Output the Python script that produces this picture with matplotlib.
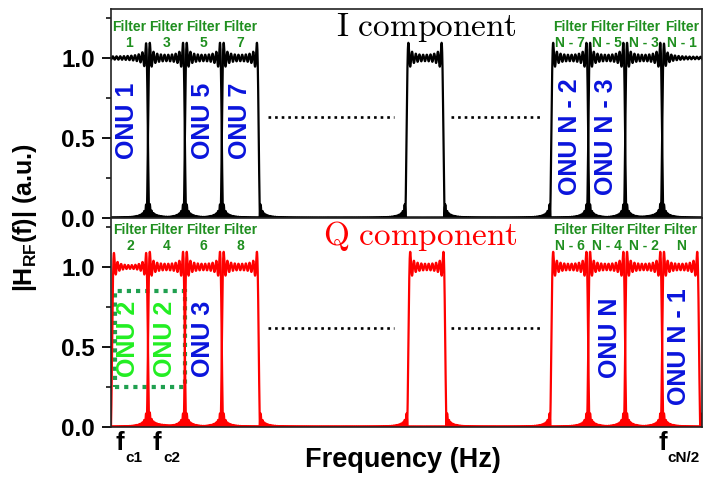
import numpy as np
import matplotlib
matplotlib.use('Agg')
import matplotlib.pyplot as plt
from matplotlib.patches import Rectangle
from matplotlib.ticker import MultipleLocator

plt.rcParams['font.family'] = 'Liberation Sans'
plt.rcParams['font.weight'] = 'bold'
plt.rcParams['mathtext.fontset'] = 'custom'
plt.rcParams['mathtext.bf'] = 'Liberation Sans:bold'
plt.rcParams['mathtext.rm'] = 'Liberation Sans:bold'
plt.rcParams['mathtext.it'] = 'Liberation Sans:bold'
plt.rcParams['mathtext.default'] = 'bf'

# filter pass-bands (lower, upper edge) in channel-spacing units
i_lo = [-1.0, 1.0, 2.0, 3.0, 8.0, 11.92, 12.92, 13.92, 14.92]
i_hi = [1.0, 2.0, 3.0, 4.0, 9.0, 12.92, 13.92, 14.92, 17.0]
q_lo = [0.03, 1.0, 2.0, 3.0, 8.05, 11.92, 12.92, 13.92, 14.92]
q_hi = [1.0, 2.0, 3.0, 4.0, 9.05, 12.92, 13.92, 14.92, 15.92]
i_names = ['1', '3', '5', '7', None, 'N - 7', 'N - 5', 'N - 3', 'N - 1']
q_names = ['2', '4', '6', '8', None, 'N - 6', 'N - 4', 'N - 2', 'N']
tap_span = 10.0     # length of truncated impulse response
f_max = 16.0

f = np.linspace(0, f_max, 20000)

# sine integral table, Si(x) = int_0^x sin(t)/t dt
t = np.linspace(0, 2 * np.pi * tap_span * 20, 400001)
g = np.sinc(t / np.pi)
si_tab = np.concatenate([[0.0], np.cumsum((g[1:] + g[:-1]) / 2 * np.diff(t))])


def si(x):
    return np.sign(x) * np.interp(np.abs(x), t, si_tab)


def response(lo, hi):
    # |H| of an ideal band-pass with truncated impulse response (Gibbs ripple)
    w = 2 * np.pi * tap_span
    return np.abs(si(w * (f - lo)) - si(w * (f - hi))) / np.pi


fig = plt.figure(figsize=(7.03, 4.78), dpi=100)
ax_i = fig.add_axes([0.1579, 0.5439, 0.8407, 0.4373])
ax_q = fig.add_axes([0.1579, 0.1067, 0.8407, 0.4372])

green = '#1f8f1f'
blue = '#0a14dc'

for ax, lo_list, hi_list, names, col, ylab in [
        (ax_i, i_lo, i_hi, i_names, 'black', 1.145),
        (ax_q, q_lo, q_hi, q_names, 'red', 1.18)]:
    for lo, hi, name in zip(lo_list, hi_list, names):
        ax.plot(f, response(lo, hi), color=col, lw=1.6)
        if name is not None:
            xc = (max(lo, 0) + min(hi, f_max)) / 2
            ax.text(xc, ylab, 'Filter\n' + name, ha='center', va='center',
                    fontsize=10, color=green, linespacing=1.2)
    ax.set_xlim(0, f_max)
    ax.set_ylim(0, 1.306)
    ax.set_xticks([])
    ax.set_yticks([0, 0.5, 1.0])
    ax.set_yticklabels(['0.0', '0.5', '1.0'])
    ax.yaxis.set_minor_locator(MultipleLocator(0.25))
    ax.tick_params(axis='y', which='major', direction='out', length=6.5,
                   width=1.3, labelsize=17.5, pad=5)
    ax.tick_params(axis='y', which='minor', direction='out', length=3.5,
                   width=1.1)
    for s in ax.spines.values():
        s.set_linewidth(1.2)
        s.set_color('#222222')

# dotted "..." for the omitted channels
for ax, yd in [(ax_i, 0.63), (ax_q, 0.62)]:
    ax.plot([4.25, 7.65], [yd, yd], color='k', lw=1.9, ls=(0, (1, 1.5)))
    ax.plot([9.2, 11.65], [yd, yd], color='k', lw=1.9, ls=(0, (1, 1.5)))

ax_i.text(6.1, 1.14, r'$\mathrm{I\ component}$', math_fontfamily='cm',
          fontsize=24, color='black', ha='left', va='baseline')
ax_q.text(5.73, 1.14, r'$\mathrm{Q\ component}$', math_fontfamily='cm',
          fontsize=24, color='red', ha='left', va='baseline')

# ONU labels in the I band
for txt, x, y in [('ONU 1', 0.43, 0.61), ('ONU 5', 2.49, 0.61),
                  ('ONU 7', 3.49, 0.61), ('ONU N - 2', 12.43, 0.51),
                  ('ONU N - 3', 13.4, 0.51)]:
    ax_i.text(x, y, txt, rotation=90, ha='center', va='center',
              fontsize=18, color=blue)

# ONU labels in the Q band
for txt, x, y, c in [('ONU 2', 0.45, 0.55, '#22ee22'),
                     ('ONU 2', 1.45, 0.55, '#22ee22'),
                     ('ONU 3', 2.5, 0.55, blue),
                     ('ONU N', 13.5, 0.56, blue),
                     ('ONU N - 1', 15.38, 0.5, blue)]:
    ax_q.text(x, y, txt, rotation=90, ha='center', va='center',
              fontsize=18, color=c)

ax_q.add_patch(Rectangle((0.11, 0.25), 1.89, 0.6, fill=False,
                         edgecolor='#20a050', lw=3, ls=(0, (1, 1.2))))

fig.text(0.036, 0.544, r'|H$_{RF}$(f)| (a.u.)', rotation=90, fontsize=18,
         ha='center', va='center')
fig.text(0.573, 0.023, 'Frequency (Hz)', fontsize=19.5, ha='center',
         va='baseline')

# carrier frequency markers under the axis
for x_f, x_sub, sub in [(0.1636, 0.1778, 'c1'), (0.2176, 0.2318, 'c2'),
                        (0.936, 0.9488, 'cN/2')]:
    fig.text(x_f, 0.0586, 'f', fontsize=18.5, ha='left', va='baseline')
    fig.text(x_sub, 0.034, sub, fontsize=11, ha='left', va='baseline')

fig.savefig('out.png', dpi=100)
